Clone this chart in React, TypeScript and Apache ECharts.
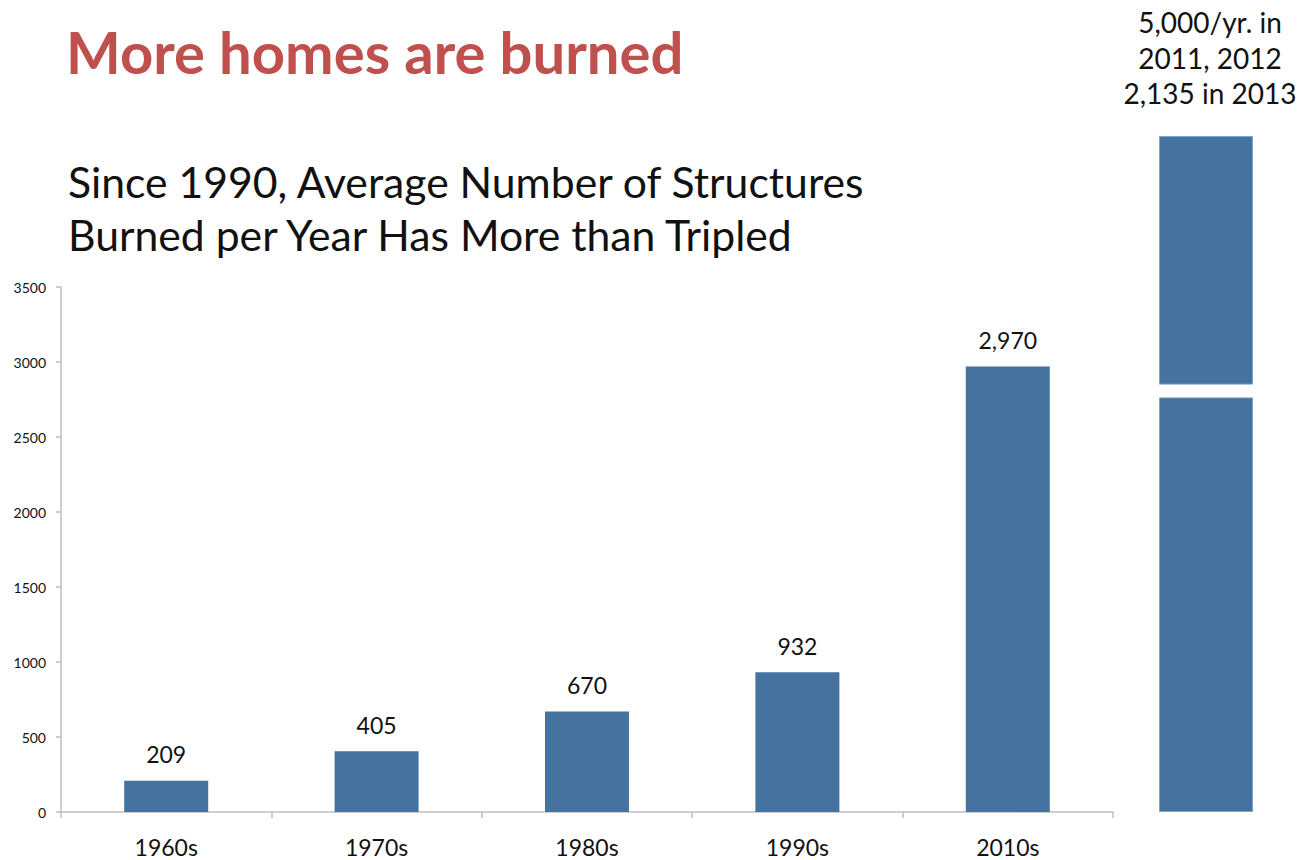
import React, { useEffect, useRef } from "react";
import * as echarts from "echarts";

const categories = ["1960s", "1970s", "1980s", "1990s", "2010s"];
const avgStructures = [209, 405, 670, 932, 2970];
const yTicks = [0, 500, 1000, 1500, 2000, 2500, 3000, 3500];
// broken bar on the right (illustrative, 5,000/yr): lower part, break, upper part
const brokenLower = [2760];
const brokenGap = [85];
const brokenUpper = [1655];
const titleText = "More homes are burned";
const subtitleLines = ["Since 1990, Average Number of Structures", "Burned per Year Has More than Tripled"];
const noteLines = ["5,000/yr. in", "2011, 2012", "2,135 in 2013"];

const BAR = "#4672a0";
const FONT = "Lato, 'Open Sans', sans-serif";

export default function App() {
  const ref = useRef<HTMLDivElement>(null);
  useEffect(() => {
    document.body.style.margin = "0";
    const chart = echarts.init(ref.current!, null, { renderer: "svg" });
    chart.setOption({
      animation: false,
      backgroundColor: "#ffffff",
      textStyle: { fontFamily: FONT },
      grid: [
        { left: 61, right: 185, top: 287, bottom: 48 },
        { left: 1159, right: 45, top: 136, bottom: 48 },
      ],
      xAxis: [
        {
          type: "category",
          gridIndex: 0,
          data: categories,
          axisLine: { lineStyle: { color: "#bfbfbf", width: 1.5 } },
          axisTick: { show: true, length: 6, lineStyle: { color: "#bfbfbf", width: 1.5 } },
          axisLabel: { color: "#111", fontSize: 23, margin: 23, fontFamily: FONT },
        },
        {
          type: "category",
          gridIndex: 1,
          data: [""],
          show: false,
        },
      ],
      yAxis: [
        {
          type: "value",
          gridIndex: 0,
          min: 0,
          max: 3500,
          interval: 500,
          axisLine: { show: true, lineStyle: { color: "#bfbfbf", width: 1.5 } },
          axisTick: { show: true, length: 5, lineStyle: { color: "#bfbfbf", width: 1.5 } },
          splitLine: { show: false },
          axisLabel: {
            color: "#111",
            fontSize: 14,
            margin: 15,
            fontFamily: FONT,
            formatter: (v: number) => (yTicks.includes(v) ? String(v) : ""),
          },
        },
        {
          type: "value",
          gridIndex: 1,
          min: 0,
          max: 4500,
          show: false,
        },
      ],
      series: [
        {
          type: "bar",
          xAxisIndex: 0,
          yAxisIndex: 0,
          data: avgStructures,
          barWidth: 84,
          itemStyle: { color: BAR },
          label: {
            show: true,
            position: "top",
            distance: 15,
            color: "#111",
            fontSize: 23,
            fontFamily: FONT,
            formatter: (p: any) => Number(p.value).toLocaleString("en-US"),
          },
        },
        {
          type: "bar",
          xAxisIndex: 1,
          yAxisIndex: 1,
          stack: "broken",
          data: brokenLower,
          barWidth: 94,
          itemStyle: { color: BAR, borderColor: "#7aa3d4", borderWidth: 1 },
        },
        {
          type: "bar",
          xAxisIndex: 1,
          yAxisIndex: 1,
          stack: "broken",
          data: brokenGap,
          barWidth: 94,
          itemStyle: { color: "rgba(255,255,255,0)" },
        },
        {
          type: "bar",
          xAxisIndex: 1,
          yAxisIndex: 1,
          stack: "broken",
          data: brokenUpper,
          barWidth: 94,
          itemStyle: { color: BAR, borderColor: "#7aa3d4", borderWidth: 1 },
        },
      ],
      graphic: [
        {
          type: "text",
          left: 66,
          top: 22,
          style: { text: titleText, fill: "#c0504d", font: `bold 58px ${FONT}` },
        },
        ...subtitleLines.map((t, i) => ({
          type: "text",
          x: 68,
          y: 181 + i * 53,
          style: { text: t, fill: "#111", font: `42.7px ${FONT}`, textAlign: "left", textVerticalAlign: "middle" },
        })),
        ...noteLines.map((t, i) => ({
          type: "text",
          x: 1210,
          y: 22 + i * 35.5,
          style: {
            text: t,
            fill: "#111",
            font: `28px ${FONT}`,
            textAlign: "center",
            textVerticalAlign: "middle",
          },
        })),
      ],
    });
    return () => chart.dispose();
  }, []);
  return <div ref={ref} style={{ width: 1298, height: 860 }} />;
}
